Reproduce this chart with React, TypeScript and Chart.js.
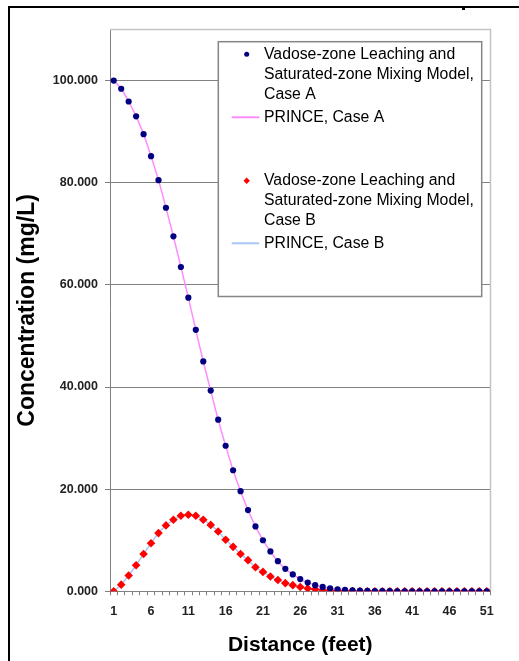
import React, { useEffect, useRef } from 'react';
import { Chart, registerables } from 'chart.js';

Chart.register(...registerables);

const distances = [
  1, 2, 3, 4, 5, 6, 7, 8, 9, 10, 11, 12, 13, 14, 15, 16, 17, 18, 19, 20,
  21, 22, 23, 24, 25, 26, 27, 28, 29, 30, 31, 32, 33, 34, 35, 36, 37, 38, 39, 40,
  41, 42, 43, 44, 45, 46, 47, 48, 49, 50, 51,
];

const xTickLabels = ['1', '6', '11', '16', '21', '26', '31', '36', '41', '46', '51'];
const yTickValues = [0, 20, 40, 60, 80, 100];
const yTickLabels = ['0.000', '20.000', '40.000', '60.000', '80.000', '100.000'];

const caseA = [
  100, 98.4, 95.9, 93.0, 89.5, 85.2, 80.5, 75.1, 69.5, 63.5,
  57.5, 51.2, 45.0, 39.3, 33.6, 28.5, 23.7, 19.6, 15.9, 12.7,
  10.0, 7.8, 5.9, 4.4, 3.3, 2.4, 1.7, 1.2, 0.85, 0.6,
  0.4, 0.27, 0.18, 0.12, 0.08, 0.05, 0.03, 0.02, 0.01, 0.01,
  0, 0, 0, 0, 0, 0, 0, 0, 0, 0, 0,
];

const princeA = [
  100, 98.4, 95.9, 93.0, 89.5, 85.2, 80.5, 75.1, 69.5, 63.5,
  57.5, 51.2, 45.0, 39.3, 33.6, 28.5, 23.7, 19.6, 15.9, 12.7,
  10.0, 7.8, 5.9, 4.4, 3.3, 2.4, 1.7, 1.2, 0.85, 0.6,
  0.4, 0.27, 0.18, 0.12, 0.08, 0.05, 0.03, 0.02, 0.01, 0.01,
  0, 0, 0, 0, 0, 0, 0, 0, 0, 0, 0,
];

const caseB = [
  0, 1.3, 3.1, 5.1, 7.3, 9.4, 11.4, 12.9, 14.0, 14.8,
  15.0, 14.8, 14.0, 13.0, 11.7, 10.1, 8.7, 7.3, 6.1, 4.7,
  3.8, 2.9, 2.2, 1.6, 1.2, 0.85, 0.55, 0.38, 0.25, 0.16,
  0.1, 0.06, 0.04, 0.02, 0.01, 0.01, 0, 0, 0, 0,
  0, 0, 0, 0, 0, 0, 0, 0, 0, 0, 0,
];

const princeB = [
  0, 1.3, 3.1, 5.1, 7.3, 9.4, 11.4, 12.9, 14.0, 14.8,
  15.0, 14.8, 14.0, 13.0, 11.7, 10.1, 8.7, 7.3, 6.1, 4.7,
  3.8, 2.9, 2.2, 1.6, 1.2, 0.85, 0.55, 0.38, 0.25, 0.16,
  0.1, 0.06, 0.04, 0.02, 0.01, 0.01, 0, 0, 0, 0,
  0, 0, 0, 0, 0, 0, 0, 0, 0, 0, 0,
];

const legendLines = [
  ['Vadose-zone Leaching and', 'Saturated-zone Mixing Model,', 'Case A'],
  ['PRINCE, Case A'],
  ['Vadose-zone Leaching and', 'Saturated-zone Mixing Model,', 'Case B'],
  ['PRINCE, Case B'],
];

const FONT = 'Arial, "Liberation Sans", sans-serif';
const NAVY = '#000080';
const RED = '#ff0000';
const PINK = '#ff8cff';
const LIGHTBLUE = '#a9c8f5';
const GRID = '#808080';

const plotFramePlugin = {
  id: 'plotFrame',
  beforeDatasetsDraw(chart: any) {
    const { ctx, chartArea } = chart;
    ctx.save();
    ctx.strokeStyle = '#c4c4c4';
    ctx.lineWidth = 1.5;
    ctx.beginPath();
    ctx.moveTo(chartArea.left, chartArea.top);
    ctx.lineTo(chartArea.right, chartArea.top);
    ctx.lineTo(chartArea.right, chartArea.bottom);
    ctx.stroke();
    ctx.restore();
  },
};

const boxLegendPlugin = {
  id: 'boxLegend',
  afterDatasetsDraw(chart: any) {
    const { ctx, chartArea } = chart;
    const left = chartArea.left + 108.3;
    const top = chartArea.top + 12.2;
    const right = chartArea.right - 8.8;
    const bottom = chartArea.top + 267;
    ctx.save();
    ctx.fillStyle = '#ffffff';
    ctx.fillRect(left, top, right - left, bottom - top);
    ctx.strokeStyle = '#858585';
    ctx.lineWidth = 1.5;
    ctx.strokeRect(left, top, right - left, bottom - top);

    const textX = left + 45.7;
    const markerX = left + 28.4;
    const lineX0 = left + 13.4;
    const lineX1 = left + 41;
    const entryTops = [top + 12.5, top + 75.6, top + 139, top + 201.6];
    const lineH = 20;
    ctx.font = `15.8px ${FONT}`;
    ctx.textBaseline = 'middle';
    ctx.textAlign = 'left';
    ctx.fillStyle = '#000';
    const metas = chart.data.datasets;
    legendLines.forEach((lines, i) => {
      const y0 = entryTops[i];
      const ds = metas[i];
      if (ds.showLine === false) {
        ctx.save();
        ctx.fillStyle = ds.pointBackgroundColor;
        ctx.beginPath();
        if (ds.pointStyle === 'rectRot') {
          const r = 3.2;
          ctx.moveTo(markerX, y0 - r);
          ctx.lineTo(markerX + r, y0);
          ctx.lineTo(markerX, y0 + r);
          ctx.lineTo(markerX - r, y0);
          ctx.closePath();
        } else {
          ctx.arc(markerX, y0, 2.5, 0, Math.PI * 2);
        }
        ctx.fill();
        ctx.restore();
      } else {
        ctx.save();
        ctx.strokeStyle = ds.borderColor;
        ctx.lineWidth = 2;
        ctx.beginPath();
        ctx.moveTo(lineX0, y0);
        ctx.lineTo(lineX1, y0);
        ctx.stroke();
        ctx.restore();
      }
      lines.forEach((t, j) => {
        ctx.fillText(t, textX, y0 + j * lineH);
      });
    });
    ctx.restore();
  },
};

export default function App() {
  const canvasRef = useRef<HTMLCanvasElement | null>(null);

  useEffect(() => {
    const canvas = canvasRef.current;
    if (!canvas) return;
    const chart = new Chart(canvas, {
      type: 'line',
      data: {
        labels: distances.map(String),
        datasets: [
          {
            label: legendLines[0].join(' '),
            data: caseA,
            showLine: false,
            pointStyle: 'circle',
            pointRadius: 3.1,
            pointBackgroundColor: NAVY,
            pointBorderColor: NAVY,
            pointBorderWidth: 0,
            borderColor: NAVY,
            order: 1,
          },
          {
            label: legendLines[1].join(' '),
            data: princeA,
            borderColor: PINK,
            borderWidth: 1.5,
            pointRadius: 0,
            cubicInterpolationMode: 'monotone',
            order: 3,
          },
          {
            label: legendLines[2].join(' '),
            data: caseB,
            showLine: false,
            pointStyle: 'rectRot',
            pointRadius: 4.3,
            pointBackgroundColor: RED,
            pointBorderColor: RED,
            pointBorderWidth: 0,
            borderColor: RED,
            order: 2,
          },
          {
            label: legendLines[3].join(' '),
            data: princeB,
            borderColor: LIGHTBLUE,
            borderWidth: 1.5,
            pointRadius: 0,
            cubicInterpolationMode: 'monotone',
            order: 4,
          },
        ] as any,
      },
      options: {
        responsive: false,
        animation: false,
        devicePixelRatio: 1,
        layout: { padding: { left: 9, top: 29.5, right: 28.5, bottom: 0 } },
        plugins: {
          legend: { display: false },
          tooltip: { enabled: false },
        },
        scales: {
          x: {
            type: 'category',
            offset: true,
            grid: {
              offset: true,
              drawOnChartArea: false,
              drawTicks: true,
              tickLength: 4,
              color: GRID,
            },
            border: { display: true, color: GRID, width: 1 },
            ticks: {
              autoSkip: false,
              maxRotation: 0,
              minRotation: 0,
              padding: 9,
              color: '#222',
              font: { family: FONT, size: 12.5, weight: 'bold' },
              callback: (_v: any, idx: number) => {
                const s = String(distances[idx]);
                return xTickLabels.includes(s) ? s : '';
              },
            },
            title: {
              display: true,
              text: 'Distance (feet)',
              color: '#000',
              font: { family: FONT, size: 21, weight: 'bold' },
              padding: { top: 0, bottom: 3 },
            },
            afterFit: (s: any) => {
              s.height = 69.7;
            },
          } as any,
          y: {
            min: 0,
            max: 110,
            grid: { color: GRID, tickLength: 5, lineWidth: 1 },
            border: { display: true, color: GRID, width: 1 },
            ticks: {
              stepSize: 20,
              padding: 7,
              color: '#222',
              font: { family: FONT, size: 12.5, weight: 'bold' },
              callback: (v: any) => {
                const i = yTickValues.indexOf(Number(v));
                return i >= 0 ? yTickLabels[i] : '';
              },
            },
            afterBuildTicks: (s: any) => {
              s.ticks = s.ticks.filter((t: any) => t.value <= 100);
            },
            title: {
              display: true,
              text: 'Concentration (mg/L)',
              color: '#000',
              font: { family: FONT, size: 23, weight: 'bold' },
              padding: { top: 5, bottom: 0 },
            },
            afterFit: (s: any) => {
              s.width = 101;
            },
          } as any,
        },
      },
      plugins: [plotFramePlugin, boxLegendPlugin],
    });
    return () => chart.destroy();
  }, []);

  return (
    <div
      style={{
        position: 'fixed',
        left: 0,
        top: 0,
        width: 519,
        height: 661,
        overflow: 'hidden',
        background: '#fff',
      }}
    >
      <div
        style={{
          position: 'absolute',
          left: 8,
          top: 5.5,
          width: 600,
          height: 700,
          borderLeft: '2.5px solid #000',
          borderTop: '2px solid #000',
        }}
      />
      <div style={{ position: 'absolute', left: 462, top: 7, width: 3, height: 3, background: '#000' }} />
      <canvas
        ref={canvasRef}
        width={519}
        height={661}
        style={{ position: 'absolute', left: 0, top: 0, width: 519, height: 661 }}
      />
    </div>
  );
}
